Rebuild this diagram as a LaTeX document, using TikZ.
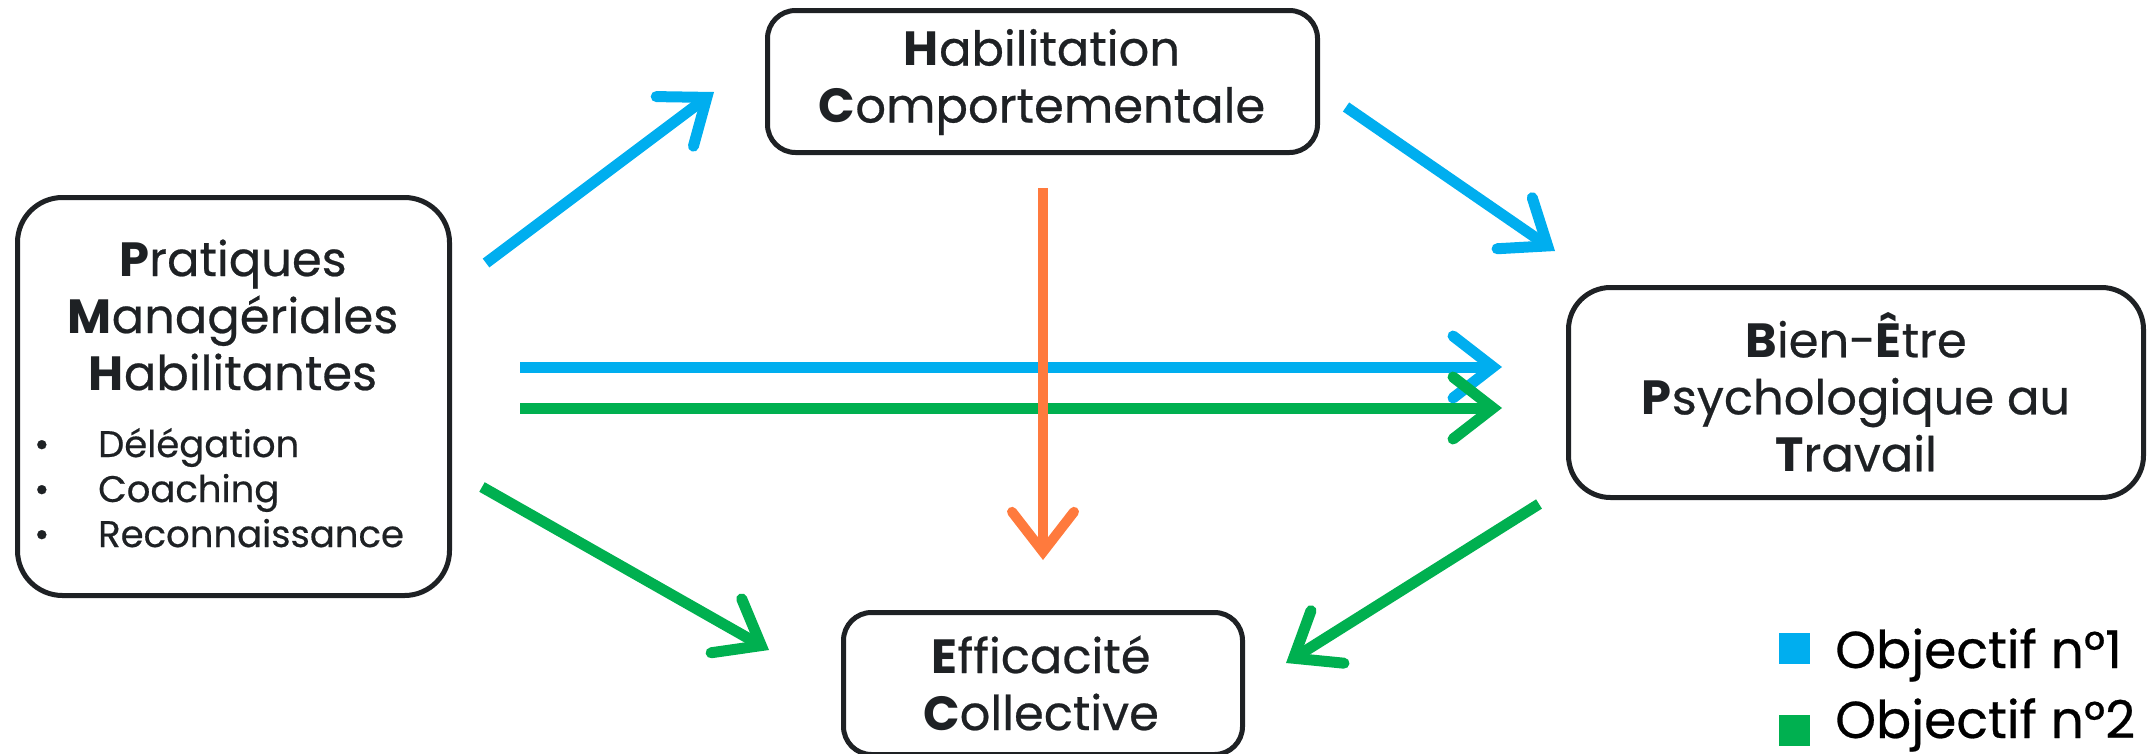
\documentclass[tikz,border=0pt]{standalone}
\usepackage{fontspec}
\setmainfont{Poppins}[UprightFeatures={FakeBold=0.5}]
\usetikzlibrary{arrows.meta}
\definecolor{cblue}{RGB}{0,174,239}
\definecolor{cgreen}{RGB}{0,176,80}
\definecolor{corange}{RGB}{255,122,61}
\definecolor{cdark}{RGB}{30,33,36}
\begin{document}
\begin{tikzpicture}[x=1pt,y=-1pt,
  box/.style={draw=cdark, line width=5pt, rectangle, rounded corners=#1, inner sep=0pt},
  box/.default=28pt,
  lbl/.style={text=cdark, align=center, inner sep=0pt, font=\fontsize{48}{57}\selectfont},
  small/.style={text=cdark, inner sep=0pt, anchor=base west, font=\fontsize{37}{44}\selectfont},
  legtext/.style={text=black, inner sep=0pt, anchor=base west, font=\fontsize{52}{60}\selectfont},
  arr/.style={line width=11pt, -{Straight Barb[length=40pt,width=62pt,line cap=round]}},
]
\useasboundingbox (0,0) rectangle (2151,753);
% boxes
\node[box=45pt, minimum width=432pt, minimum height=398pt] (pmh) at (233.5,396.5) {};
\node[box, minimum width=550pt, minimum height=142pt] (hc) at (1042.5,81.5) {};
\node[box=42pt, minimum width=575pt, minimum height=210pt] (bep) at (1856,392.5) {};
\node[box, minimum width=399pt, minimum height=142pt] (ec) at (1043,683.5) {};
% texts
\node[lbl] (hct) at (1042,82) {\textbf{H}abilitation\\\textbf{C}omportementale};
\node[lbl] (bept) at (1856,392) {\textbf{B}ien-\textbf{Ê}tre\\\textbf{P}sychologique au\\\textbf{T}ravail};
\node[lbl] (ect) at (1041,683) {\textbf{E}fficacité\\\textbf{C}ollective};
\node[lbl] (pmht) at (233,315) {\textbf{P}ratiques\\\textbf{M}anagériales\\\textbf{H}abilitantes};
\node[small] (b1) at (34,457) {\makebox[64pt][l]{•}Délégation};
\node[small] (b2) at (34,502) {\makebox[64pt][l]{•}Coaching};
\node[small] (b3) at (34,547) {\makebox[64pt][l]{•}Reconnaissance};
% legend
\node[fill=cblue, minimum size=31pt, inner sep=0pt] (lg1) at (1794.5,648.5) {};
\node[fill=cgreen, minimum size=31pt, inner sep=0pt] (lg2) at (1794.5,730.5) {};
\node[legtext] (lt1) at (1835,668) {Objectif n°1};
\node[legtext] (lt2) at (1835,738) {Objectif n°2};
% arrow end points
\coordinate (a1s) at (486,263);  \coordinate (a1e) at (714,92);
\coordinate (a2s) at (1346,107); \coordinate (a2e) at (1555,251);
\coordinate (a3s) at (520,367);  \coordinate (a3e) at (1502,367);
\coordinate (a4s) at (520,408);  \coordinate (a4e) at (1502,408);
\coordinate (a5s) at (1043,188); \coordinate (a5e) at (1043,560);
\coordinate (a6s) at (482,487);  \coordinate (a6e) at (769,650);
\coordinate (a7s) at (1539,504); \coordinate (a7e) at (1286,663);
\draw[arr, cblue] (a1s) -- (a1e);
\draw[arr, cblue] (a2s) -- (a2e);
\draw[arr, cblue] (a3s) -- (a3e);
\draw[arr, cgreen] (a4s) -- (a4e);
\draw[arr, corange, line width=10pt] (a5s) -- (a5e);
\draw[arr, cgreen] (a6s) -- (a6e);
\draw[arr, cgreen] (a7s) -- (a7e);
\end{tikzpicture}
\end{document}
